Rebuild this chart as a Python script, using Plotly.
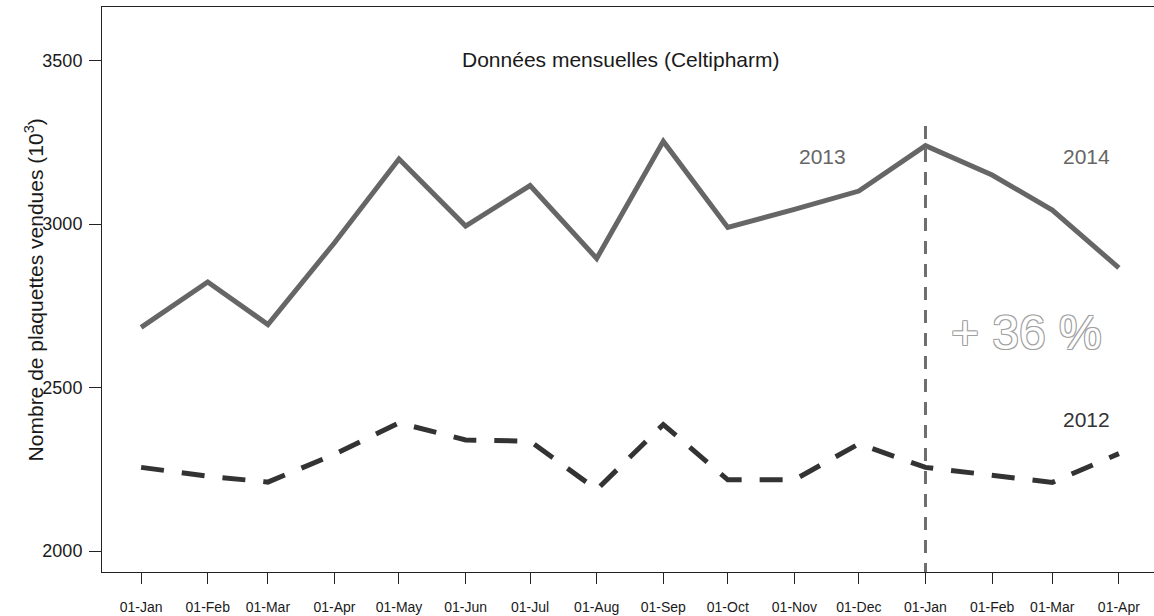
import plotly.graph_objects as go
import pandas as pd

# ---- data ----
months = ["2013-01-01", "2013-02-01", "2013-03-01", "2013-04-01", "2013-05-01", "2013-06-01",
          "2013-07-01", "2013-08-01", "2013-09-01", "2013-10-01", "2013-11-01", "2013-12-01",
          "2014-01-01", "2014-02-01", "2014-03-01", "2014-04-01"]
tick_labels = ["01-Jan", "01-Feb", "01-Mar", "01-Apr", "01-May", "01-Jun", "01-Jul", "01-Aug",
               "01-Sep", "01-Oct", "01-Nov", "01-Dec", "01-Jan", "01-Feb", "01-Mar", "01-Apr"]
sales_2013_2014 = [2684, 2823, 2693, 2943, 3199, 2994, 3118, 2895, 3253, 2990, 3045, 3101,
                   3240, 3150, 3043, 2866]
sales_2012 = [2256, 2229, 2211, 2296, 2392, 2340, 2336, 2188, 2387, 2218, 2218, 2328,
              2256, 2232, 2210, 2298]
y_ticks = [2000, 2500, 3000, 3500]
y_limits = [2000, 3600]
break_date = "2014-01-01"
break_top = 3300

FONT = "Liberation Sans, Arial, sans-serif"

dates = pd.to_datetime(months)
span = dates.max() - dates.min()
x_left = dates.min() - span * 0.04
x_right = dates.max() + span * 0.04
ylo = y_limits[0] - (y_limits[1] - y_limits[0]) * 0.04
yhi = y_limits[1] + (y_limits[1] - y_limits[0]) * 0.04

fig = go.Figure()
fig.add_trace(go.Scatter(x=dates, y=sales_2012, mode="lines",
                         line=dict(color="#333333", width=5, dash="23px,18px"),
                         name="2012", hoverinfo="skip"))
fig.add_trace(go.Scatter(x=dates, y=sales_2013_2014, mode="lines",
                         line=dict(color="#666666", width=5),
                         name="2013-2014", hoverinfo="skip"))

fig.add_shape(type="line", xref="x", yref="y", x0=break_date, x1=break_date,
              y0=break_top, y1=ylo, line=dict(color="#6e6e6e", width=3, dash="13px,10px"))

fig.add_annotation(x="2013-08-12", y=3504, text="Données mensuelles (Celtipharm)",
                   showarrow=False, font=dict(family=FONT, size=21, color="#1a1a1a"))
fig.add_annotation(x="2013-11-14", y=3207, text="2013", showarrow=False,
                   font=dict(family=FONT, size=21, color="#666666"))
fig.add_annotation(x="2014-03-17", y=3207, text="2014", showarrow=False,
                   font=dict(family=FONT, size=21, color="#666666"))
fig.add_annotation(x="2014-03-17", y=2403, text="2012", showarrow=False,
                   font=dict(family=FONT, size=21, color="#333333"))
fig.add_annotation(x="2014-02-17", y=2670, text="+ 36 %", showarrow=False,
                   font=dict(family=FONT, size=48, color="#ffffff",
                             shadow="-1px -1px 0 #a0a0a0, 1px -1px 0 #a0a0a0, -1px 1px 0 #a0a0a0, 1px 1px 0 #a0a0a0"))
# y-axis title
fig.add_annotation(xref="paper", yref="paper", x=-0.0645, y=0.5, textangle=-90,
                   xanchor="center", yanchor="middle", showarrow=False,
                   text="Nombre de plaquettes vendues (10<sup>3</sup>)",
                   font=dict(family=FONT, size=21, color="#1a1a1a"))

fig.update_layout(
    width=1158, height=616,
    margin=dict(l=102, r=0, t=7, b=44, pad=0),
    paper_bgcolor="white", plot_bgcolor="white",
    showlegend=False,
    font=dict(family=FONT, color="#1a1a1a"),
    xaxis=dict(range=[x_left, x_right], tickmode="array", tickvals=dates, ticktext=tick_labels,
               ticks="outside", ticklen=11, tickcolor="#222", tickwidth=1,
               showline=True, linecolor="#222", linewidth=1, mirror=True,
               showgrid=False, zeroline=False, ticklabelstandoff=11, automargin=False,
               tickfont=dict(family=FONT, size=14, color="#1a1a1a")),
    yaxis=dict(range=[ylo, yhi], tickmode="array", tickvals=y_ticks,
               ticks="outside", ticklen=12, tickcolor="#222", tickwidth=1,
               showline=True, linecolor="#222", linewidth=1, mirror=False,
               showgrid=False, zeroline=False, ticklabelstandoff=3, automargin=False,
               tickfont=dict(family=FONT, size=18, color="#1a1a1a")),
)

fig.write_html("out.html", config={"displayModeBar": False},
               post_script="document.documentElement.style.overflow='hidden';"
                           "document.body.style.margin='0';document.body.style.overflow='hidden';")
